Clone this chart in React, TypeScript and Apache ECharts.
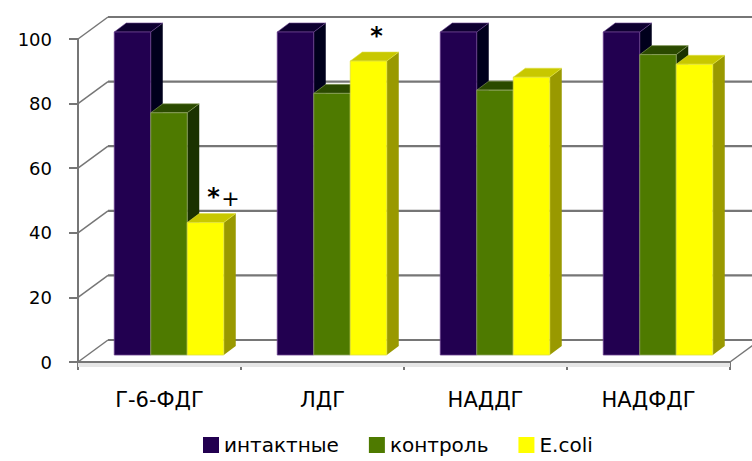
import React, { useEffect, useRef } from 'react';
import * as echarts from 'echarts';

const categories = ['Г-6-ФДГ', 'ЛДГ', 'НАДДГ', 'НАДФДГ'];
const seriesNames = ['интактные', 'контроль', 'E.coli'];
const intact = [100, 100, 100, 100];
const control = [75, 81, 82, 93];
const ecoli = [41, 91, 86, 90];
const ecoliMarks = ['*+', '*', '', ''];
const yTicks = [0, 20, 40, 60, 80, 100];

const FONT = 'DejaVu Sans';
const BAR_FRAC = 36.5 / 163; // bar width as share of category band
const BX = 9.5; // bar plane shift
const BY = -7;
const DX = 12; // bar depth
const DY = -9;
const WX = 30; // back wall shift
const WY = -22;
const GRID_COLOR = '#767676';

const palettes = [
  { face: '#220050', top: '#0e0030', side: '#00001c', edge: '#6a3f8e' },
  { face: '#4e7a00', top: '#2b4a00', side: '#1a3200', edge: '#8ea260' },
  { face: '#ffff00', top: '#c8c800', side: '#999900', edge: '#e0e040' },
];

function barSeries(k: number, name: string, values: number[], marks?: string[]) {
  const pal = palettes[k];
  return {
    type: 'custom',
    name,
    coordinateSystem: 'cartesian2d',
    clip: false,
    z: 3 + k,
    itemStyle: { color: pal.face },
    encode: { x: 0, y: 1 },
    data: values.map((v, i) => [i, v]),
    renderItem: (params: any, api: any) => {
      const i = api.value(0);
      const v = api.value(1);
      const top = api.coord([i, v]);
      const base = api.coord([i, 0]);
      const band = api.size([1, 0])[0];
      const w = band * BAR_FRAC;
      const x0 = top[0] + BX + (k - 1.5) * w;
      const x1 = x0 + w;
      const yT = top[1] + BY;
      const yB = base[1] + BY;
      const children: any[] = [
        {
          type: 'polygon',
          shape: { points: [[x1, yT], [x1 + DX, yT + DY], [x1 + DX, yB + DY], [x1, yB]] },
          style: { fill: pal.side },
        },
        {
          type: 'polygon',
          shape: { points: [[x0, yT], [x0 + DX, yT + DY], [x1 + DX, yT + DY], [x1, yT]] },
          style: { fill: pal.top, stroke: pal.edge, lineWidth: 0.6 },
        },
        {
          type: 'rect',
          shape: { x: x0, y: yT, width: w, height: yB - yT },
          style: { fill: pal.face, stroke: pal.edge, lineWidth: 0.8 },
        },
      ];
      const mark = marks ? marks[i] : '';
      if (mark) {
        const cx = x0 + w / 2 + DX / 2 + 2;
        const cy = yT + DY / 2 - 28;
        children.push({
          type: 'text',
          style: {
            text: mark.charAt(0),
            x: cx,
            y: cy + 7,
            fill: '#000',
            font: `bold 24px "${FONT}"`,
            align: 'center',
            verticalAlign: 'middle',
          },
        });
        if (mark.length > 1) {
          children.push({
            type: 'text',
            style: {
              text: mark.slice(1),
              x: cx + 17,
              y: cy + 8,
              fill: '#000',
              font: `22px "${FONT}"`,
              align: 'center',
              verticalAlign: 'middle',
            },
          });
        }
      }
      return { type: 'group', children };
    },
  };
}

const wallSeries = {
  type: 'custom',
  name: 'wall',
  coordinateSystem: 'cartesian2d',
  clip: false,
  silent: true,
  z: 1,
  encode: { x: 0, y: 1 },
  data: yTicks.map((v) => [0, v]),
  renderItem: (params: any, api: any) => {
    const v = api.value(1);
    const p = api.coord([0, v]);
    const band = api.size([1, 0])[0];
    const xL = p[0] - band / 2;
    const xR = api.coord([categories.length - 1, v])[0] + band / 2;
    const y = p[1];
    const children: any[] = [
      {
        type: 'line',
        shape: { x1: xL, y1: y, x2: xL + WX, y2: y + WY },
        style: { stroke: GRID_COLOR, lineWidth: 1.5 },
      },
      {
        type: 'line',
        shape: { x1: xL + WX, y1: y + WY, x2: xR + WX, y2: y + WY },
        style: { stroke: GRID_COLOR, lineWidth: 2.2 },
      },
    ];
    if (v === 0) {
      children.push(
        {
          type: 'rect',
          shape: { x: xL, y: y + 1, width: xR - xL, height: 4 },
          style: { fill: '#e6e6e6' },
        },
        {
          type: 'line',
          shape: { x1: xR, y1: y, x2: xR + WX, y2: y + WY },
          style: { stroke: GRID_COLOR, lineWidth: 1.5 },
        }
      );
    }
    return { type: 'group', children };
  },
};

export default function App() {
  const ref = useRef<HTMLDivElement>(null);
  useEffect(() => {
    if (!ref.current) return;
    const chart = echarts.init(ref.current, undefined, { renderer: 'svg' });
    chart.setOption({
      animation: false,
      backgroundColor: '#ffffff',
      grid: { left: 78, right: 22, top: 39, bottom: 99, containLabel: false },
      legend: {
        data: seriesNames,
        left: 198,
        top: 430,
        icon: 'rect',
        itemWidth: 16,
        itemHeight: 16,
        itemGap: 30,
        selectedMode: false,
        textStyle: { fontFamily: FONT, fontSize: 20, color: '#000' },
      },
      xAxis: {
        type: 'category',
        data: categories,
        boundaryGap: true,
        axisLine: { show: true, lineStyle: { color: GRID_COLOR, width: 2 } },
        axisTick: { show: true, length: 8, interval: 0, lineStyle: { color: GRID_COLOR, width: 2 } },
        axisLabel: { interval: 0, margin: 27, color: '#000', fontFamily: FONT, fontSize: 21 },
        splitLine: { show: false },
      },
      yAxis: {
        type: 'value',
        min: 0,
        max: 100,
        interval: 20,
        axisLine: { show: true, lineStyle: { color: GRID_COLOR, width: 2 } },
        axisTick: { show: true, length: 9, lineStyle: { color: GRID_COLOR, width: 2 } },
        axisLabel: { margin: 26, color: '#000', fontFamily: FONT, fontSize: 18 },
        splitLine: { show: false },
      },
      series: [
        wallSeries,
        barSeries(0, seriesNames[0], intact),
        barSeries(1, seriesNames[1], control),
        barSeries(2, seriesNames[2], ecoli, ecoliMarks),
      ],
    });
    return () => chart.dispose();
  }, []);
  return (
    <div
      ref={ref}
      style={{ position: 'fixed', left: 0, top: 0, width: 752, height: 461 }}
    />
  );
}
